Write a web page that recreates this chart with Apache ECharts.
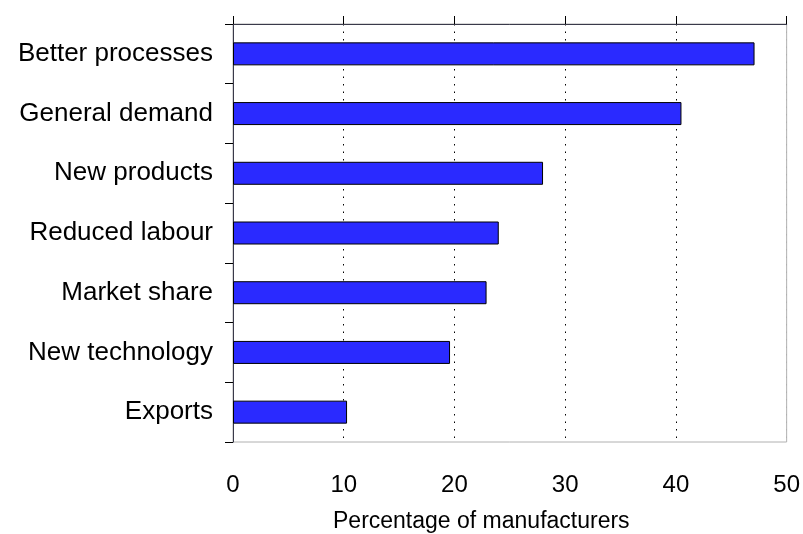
<!DOCTYPE html>
<html>
<head>
<meta charset="utf-8">
<script src="https://cdn.jsdelivr.net/npm/echarts@6/dist/echarts.min.js"></script>
<style>
html,body{margin:0;padding:0;background:#fff;}
#main{width:803px;height:534px;}
</style>
</head>
<body>
<div id="main"></div>
<script>
var categories = ["Better processes", "General demand", "New products", "Reduced labour", "Market share", "New technology", "Exports"];
var values = [47.1, 40.5, 28.0, 24.0, 22.9, 19.6, 10.3];
var tickLabels = [0, 10, 20, 30, 40, 50];
var axisTitle = "Percentage of manufacturers";

var chart = echarts.init(document.getElementById("main"));
var font = "Liberation Sans, Arial, sans-serif";

var option = {
  animation: false,
  grid: {
    left: 233, right: 16, top: 24, bottom: 92,
    show: true, borderColor: "#b0b0b0", borderWidth: 1
  },
  // axis title sits left of the plot centre in the original
  graphic: [{
    type: "text", left: 333, top: 510,
    style: {text: axisTitle, fill: "#000", fontSize: 23, fontFamily: font}
  }],
  xAxis: [
    {
      // bottom axis: labels and dotted grid
      type: "value", position: "bottom",
      min: tickLabels[0], max: tickLabels[tickLabels.length - 1], interval: 10,
      axisLine: {show: false},
      axisTick: {show: false},
      axisLabel: {
        margin: 31, color: "#000", fontSize: 24, fontFamily: font,
        formatter: function (v) { return tickLabels.indexOf(v) >= 0 ? String(v) : ""; }
      },
      splitLine: {
        show: true,
        lineStyle: {color: ["#000", "#000", "#000", "#000", "#000", "#b0b0b0"], type: [1.5, 6], width: 1}
      }
    },
    {
      // top axis: dark line with outward ticks
      type: "value", position: "top",
      min: tickLabels[0], max: tickLabels[tickLabels.length - 1], interval: 10,
      axisLine: {show: true, lineStyle: {color: "#3a3a4a", width: 1}},
      axisTick: {show: true, length: 8, lineStyle: {color: "#000", width: 1}},
      axisLabel: {show: false},
      splitLine: {show: false}
    }
  ],
  yAxis: {
    type: "category", data: categories, inverse: true,
    axisLine: {show: true, lineStyle: {color: "#3a3a4a", width: 1}},
    axisTick: {show: true, length: 8, lineStyle: {color: "#000"}},
    axisLabel: {margin: 20, color: "#000", fontSize: 26, fontFamily: font},
    splitLine: {show: false}
  },
  series: [{
    type: "bar", data: values, xAxisIndex: 0,
    barWidth: 23,
    itemStyle: {color: "#2a2aff", borderColor: "#000", borderWidth: 1}
  }]
};
chart.setOption(option);
</script>
</body>
</html>
